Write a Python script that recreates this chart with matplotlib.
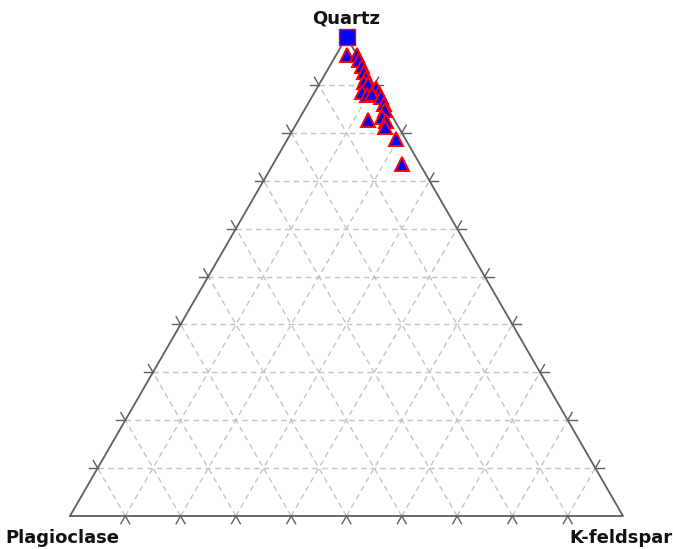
import numpy as np
import matplotlib
matplotlib.use("Agg")
import matplotlib.pyplot as plt


# modal composition in percent (quartz, K-feldspar, plagioclase)
quartz = [96.2, 96.2, 95.2, 93.9, 92.7, 91.4, 90.6, 90.2, 89.4, 88.3, 88.5,
          87.9, 88.1, 87.5, 86.0, 84.8, 83.3, 82.7, 82.5, 81.2, 78.7, 73.5]
kfeldspar = [2.0, 3.8, 4.7, 5.8, 6.8, 7.8, 7.9, 8.8, 10.6, 11.7, 8.5,
             9.8, 10.6, 12.5, 13.8, 14.6, 14.8, 12.6, 15.9, 16.4, 19.6, 23.3]
plagioclase = [100 - q - k for q, k in zip(quartz, kfeldspar)]

# reference end-member
ref_quartz = [100.0]
ref_kfeldspar = [0.0]
ref_plagioclase = [0.0]

H = np.sqrt(3) / 2


def to_xy(q, k, p):
    q = np.asarray(q, dtype=float)
    k = np.asarray(k, dtype=float)
    p = np.asarray(p, dtype=float)
    tot = q + k + p
    q, k = q / tot, k / tot
    return k + q / 2, q * H


fig = plt.figure(figsize=(6.73, 5.49), dpi=100)
ax = fig.add_axes([0, 0, 1, 1])
ax.set_xlim(-70 / 553, 603 / 553)
ax.set_ylim(-33 / 553, H + 37 / 553)
ax.axis("off")

edge_col = "#5f5f5f"
grid_col = "#c4c4c4"

# dashed grid every 10 %
for i in range(1, 10):
    f = i / 10
    ax.plot([f / 2, 1 - f / 2], [f * H, f * H], color=grid_col,
            lw=1, ls=(0, (4, 3)), zorder=1)
    ax.plot([f, f + (1 - f) / 2], [0, (1 - f) * H], color=grid_col,
            lw=1, ls=(0, (4, 3)), zorder=1)
    ax.plot([1 - f, (1 - f) / 2], [0, (1 - f) * H], color=grid_col,
            lw=1, ls=(0, (4, 3)), zorder=1)

# outline
ax.plot([0, 1, 0.5, 0], [0, 0, H, 0], color=edge_col, lw=1.3, zorder=2)

# ticks: grid lines carried a little past each edge
L = 0.016
up_left = np.array([-0.5, H])
up_right = np.array([0.5, H])
for i in range(1, 10):
    f = i / 10
    # left edge
    p0 = np.array([f / 2, f * H])
    for d in (np.array([-1.0, 0.0]), up_left):
        p1 = p0 + L * d
        ax.plot([p0[0], p1[0]], [p0[1], p1[1]], color=edge_col, lw=1, zorder=2)
    # right edge
    p0 = np.array([1 - f / 2, f * H])
    for d in (np.array([1.0, 0.0]), up_right):
        p1 = p0 + L * d
        ax.plot([p0[0], p1[0]], [p0[1], p1[1]], color=edge_col, lw=1, zorder=2)
    # base
    p0 = np.array([f, 0.0])
    for d in (-up_left, -up_right):
        p1 = p0 + L * d
        ax.plot([p0[0], p1[0]], [p0[1], p1[1]], color=edge_col, lw=1, zorder=2)

x, y = to_xy(quartz, kfeldspar, plagioclase)
ax.plot(x, y, ls="none", marker="^", ms=10, mfc="#0000ff", mec="#ff0000",
        mew=1.4, zorder=3, clip_on=False)

xr, yr = to_xy(ref_quartz, ref_kfeldspar, ref_plagioclase)
ax.plot(xr, yr, ls="none", marker="s", ms=11, mfc="#0000ff", mec="#ff0000",
        mew=1.0, zorder=4, clip_on=False)

font = dict(fontsize=13, fontweight="bold", color="#111111",
            family="DejaVu Sans", ha="center", va="center")
ax.text(0.5, H + 19 / 553, "Quartz", **font)
ax.text(-8 / 553, -22 / 553, "Plagioclase", **font)
ax.text(551 / 553, -22 / 553, "K-feldspar", **font)

fig.savefig("out.png", dpi=100)
